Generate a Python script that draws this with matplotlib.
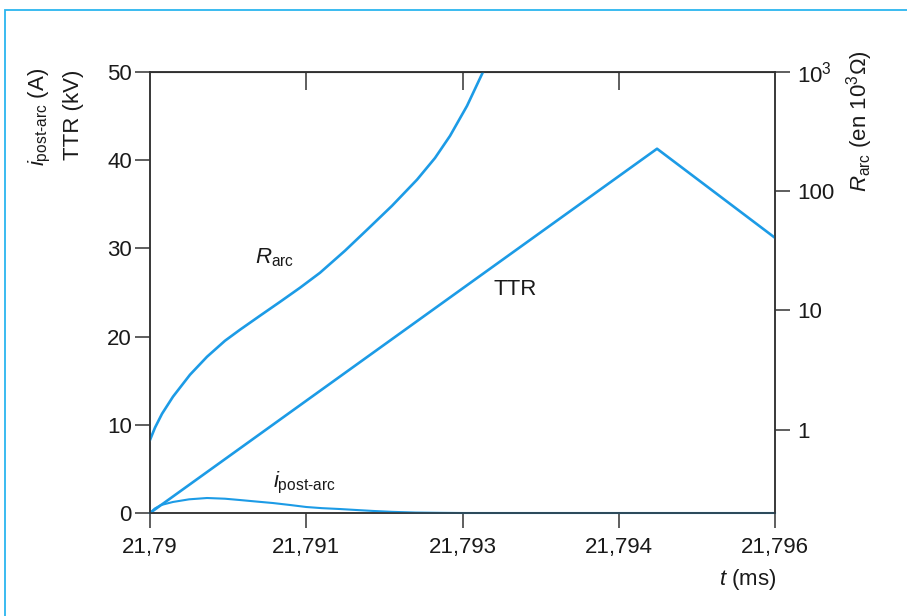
import matplotlib
matplotlib.use('Agg')
import matplotlib.pyplot as plt
from matplotlib.patches import Rectangle

plt.rcParams['font.family'] = ['Liberation Sans', 'DejaVu Sans']
plt.rcParams['mathtext.fontset'] = 'custom'
plt.rcParams['mathtext.rm'] = 'Liberation Sans'
plt.rcParams['mathtext.it'] = 'Liberation Sans:italic'

# x positions are the tick slots (labels as printed on the original)
x_ticks = [0, 1, 2, 3, 4]
x_labels = ['21,79', '21,791', '21,793', '21,794', '21,796']

# TTR (kV)
ttr_t = [0, 3.245, 4.0]
ttr_kv = [0, 41.3, 31.2]

# arc resistance (10^3 ohm), log scale
rarc_t = [0, 0.032, 0.077, 0.147, 0.256, 0.365, 0.48, 0.576, 0.704, 0.832, 0.96,
          1.088, 1.248, 1.389, 1.549, 1.709, 1.824, 1.92, 2.029, 2.131, 2.176]
rarc = [0.82, 1.04, 1.36, 1.89, 2.89, 4.09, 5.57, 6.89, 9.03, 11.8, 15.5,
        20.7, 31.7, 47.5, 75.5, 125, 190, 291, 520, 1000, 1313]

# post-arc current (A)
ipost_t = [0, 0.03, 0.07, 0.147, 0.25, 0.365, 0.48, 0.576, 0.68, 0.787, 0.9, 1.0,
           1.1, 1.216, 1.33, 1.43, 1.55, 1.7, 1.85, 2.0, 4.0]
ipost = [0, 0.5, 0.9, 1.25, 1.55, 1.7, 1.62, 1.47, 1.3, 1.13, 0.9, 0.68,
         0.55, 0.45, 0.33, 0.23, 0.13, 0.05, 0.02, 0, 0]

blue = '#1c9be6'
ink = '#1a1a1a'
spine_c = '#333333'
fs = 16

fig = plt.figure(figsize=(9.07, 6.16), dpi=100)
ax = fig.add_axes([150/907, 1-513/616, 625/907, 441/616])
ax2 = ax.twinx()

ax.plot(ttr_t, ttr_kv, color=blue, lw=1.9, zorder=3)
ax.plot(ipost_t, ipost, color=blue, lw=1.5, zorder=5, clip_on=False)
ax2.plot(rarc_t, rarc, color=blue, lw=1.9)

ax.set_xlim(0, 4)
ax.set_ylim(0, 50)
ax2.set_yscale('log')
ax2.set_ylim(0.2, 1000)

ax.set_xticks(x_ticks)
ax.set_xticklabels(x_labels)
ax.set_yticks([0, 10, 20, 30, 40, 50])
ax2.set_yticks([1, 10, 100, 1000])
ax2.set_yticklabels(['1', '10', '100', r'$10^3$'])
ax2.minorticks_off()

for a in (ax, ax2):
    for s in a.spines.values():
        s.set_linewidth(1.1)
        s.set_color(spine_c)
ax.tick_params(axis='both', direction='out', length=11, width=1.1, color=spine_c,
               labelsize=fs, labelcolor=ink)
ax.tick_params(axis='x', pad=6)
ax.tick_params(axis='y', pad=2)
ax2.tick_params(axis='y', direction='out', length=11, width=1.1, color=spine_c,
                labelsize=fs, labelcolor=ink, pad=5)

top = ax.secondary_xaxis('top')
top.set_xticks([1, 2, 3])
top.tick_params(direction='in', length=13, width=1.1, color=spine_c, labelsize=0)
top.set_xticklabels([])

ax.text(0.8, 28.9, r'$R_{\mathrm{arc}}$', fontsize=fs, color=ink, ha='center', va='center')
ax.text(2.34, 25.3, 'TTR', fontsize=fs, color=ink, ha='center', va='center')
ax.text(0.99, 3.4, r'$i_{\mathrm{post\text{-}arc}}$', fontsize=fs, color=ink, ha='center', va='center')

fig.text(40/907, 1-68/616, r'$i_{\mathrm{post\text{-}arc}}$ (A)', rotation=90,
         fontsize=fs, color=ink, ha='center', va='top')
fig.text(73/907, 1-70/616, 'TTR (kV)', rotation=90,
         fontsize=fs, color=ink, ha='center', va='top')
fig.text(860/907, 1-50/616, r'$R_{\mathrm{arc}}$ (en 10$^3\Omega$)', rotation=90,
         fontsize=fs, color=ink, ha='center', va='top')
fig.text(748/907, 1-580/616, r'$t$ (ms)', fontsize=fs, color=ink, ha='center', va='center')

fig.patches.append(Rectangle((5/907, -0.2), 1.5, 1.2 - 10/616, transform=fig.transFigure,
                             fill=False, edgecolor='#2bb5ef', lw=1.3))

fig.savefig('out.png', dpi=100)
